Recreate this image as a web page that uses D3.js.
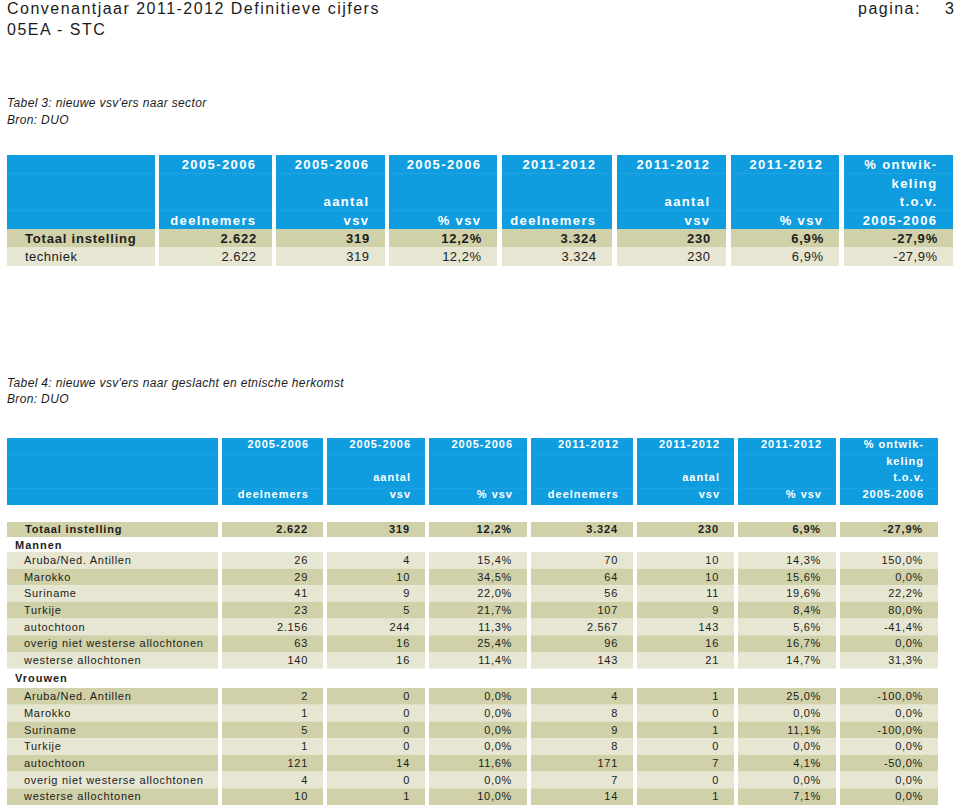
<!DOCTYPE html>
<html><head><meta charset="utf-8">
<script src="https://cdn.jsdelivr.net/npm/d3@7"></script>
<style>body{margin:0;background:#fff}svg{display:block}</style>
</head><body>
<script>
// ---------- DATA ----------
const pageTitle = "Convenantjaar 2011-2012 Definitieve cijfers";
const pageSubtitle = "05EA - STC";
const pageLabel = "pagina:";
const pageNumber = "3";

const headerLabels = [
  ["2005-2006", "", "", "deelnemers"],
  ["2005-2006", "", "aantal", "vsv"],
  ["2005-2006", "", "", "% vsv"],
  ["2011-2012", "", "", "deelnemers"],
  ["2011-2012", "", "aantal", "vsv"],
  ["2011-2012", "", "", "% vsv"],
  ["% ontwik-", "keling", "t.o.v.", "2005-2006"]
];

// Tabel 3
const t3Caption = "Tabel 3: nieuwe vsv'ers naar sector";
const t3Source = "Bron: DUO";
const sectorRows = ["Totaal instelling", "techniek"];
const sectorDeel0506 = [2622, 2622];
const sectorVsv0506 = [319, 319];
const sectorPct0506 = [12.2, 12.2];
const sectorDeel1112 = [3324, 3324];
const sectorVsv1112 = [230, 230];
const sectorPct1112 = [6.9, 6.9];
const sectorOntw = [-27.9, -27.9];

// Tabel 4
const t4Caption = "Tabel 4: nieuwe vsv'ers naar geslacht en etnische herkomst";
const t4Source = "Bron: DUO";
const totalLabel = "Totaal instelling";
const totalValues = [2622, 319, 12.2, 3324, 230, 6.9, -27.9];
const genders = ["Mannen", "Vrouwen"];
const origins = ["Aruba/Ned. Antillen", "Marokko", "Suriname", "Turkije", "autochtoon",
                 "overig niet westerse allochtonen", "westerse allochtonen"];

const mDeel0506 = [26, 29, 41, 23, 2156, 63, 140];
const mVsv0506  = [4, 10, 9, 5, 244, 16, 16];
const mPct0506  = [15.4, 34.5, 22.0, 21.7, 11.3, 25.4, 11.4];
const mDeel1112 = [70, 64, 56, 107, 2567, 96, 143];
const mVsv1112  = [10, 10, 11, 9, 143, 16, 21];
const mPct1112  = [14.3, 15.6, 19.6, 8.4, 5.6, 16.7, 14.7];
const mOntw     = [150.0, 0.0, 22.2, 80.0, -41.4, 0.0, 31.3];

const vDeel0506 = [2, 1, 5, 1, 121, 4, 10];
const vVsv0506  = [0, 0, 0, 0, 14, 0, 1];
const vPct0506  = [0.0, 0.0, 0.0, 0.0, 11.6, 0.0, 10.0];
const vDeel1112 = [4, 8, 9, 8, 171, 7, 14];
const vVsv1112  = [1, 0, 1, 0, 7, 0, 1];
const vPct1112  = [25.0, 0.0, 11.1, 0.0, 4.1, 0.0, 7.1];
const vOntw     = [-100.0, 0.0, -100.0, 0.0, -50.0, 0.0, 0.0];

// ---------- FORMAT ----------
const nl = d3.formatLocale({decimal: ",", thousands: ".", grouping: [3], currency: ["€", ""], minus: "-"});
const fInt = nl.format(",d");
const fPct = v => nl.format(".1f")(v) + "%";
const colFormats = [fInt, fInt, fPct, fInt, fInt, fPct, fPct];

// ---------- STYLE ----------
const BLUE = "#0f9de0", DARK = "#d0d1a8", LIGHT = "#e6e6d2", TXT = "#1c1c1c";
const FONT = "'Liberation Sans', Arial, Helvetica, sans-serif";

const W = 960, H = 811;
const svg = d3.select("body").append("svg").attr("width", W).attr("height", H)
  .style("font-family", FONT);

// Page header
svg.append("text").attr("x", 7).attr("y", 13.5).attr("font-size", 16)
  .attr("letter-spacing", 1.48).attr("fill", TXT).text(pageTitle);
svg.append("text").attr("x", 7).attr("y", 35).attr("font-size", 16)
  .attr("letter-spacing", 1.48).attr("fill", TXT).text(pageSubtitle);
svg.append("text").attr("x", 858).attr("y", 13.5).attr("font-size", 16)
  .attr("letter-spacing", 1.48).attr("fill", TXT).text(pageLabel);
svg.append("text").attr("x", 945).attr("y", 13.5).attr("font-size", 16)
  .attr("fill", TXT).text(pageNumber);

function caption(y, txt) {
  svg.append("text").attr("x", 7).attr("y", y).attr("font-size", 12)
    .attr("font-style", "italic").attr("letter-spacing", 0.35).attr("fill", TXT).text(txt);
}
caption(107, t3Caption); caption(124, t3Source);
caption(387, t4Caption); caption(403, t4Source);

// Generic header drawing
function drawHeader(cols, y0, y1, fs, ls, pad, textOffset) {
  const band = d3.scaleBand().domain(d3.range(4)).range([y0, y1]);
  const g = svg.append("g");
  cols.forEach((c, i) => {
    g.append("rect").attr("x", c[0]).attr("y", y0).attr("width", c[1] - c[0])
      .attr("height", y1 - y0).attr("fill", BLUE);
    [1, 3].forEach(k => g.append("line").attr("x1", c[0]).attr("x2", c[1])
      .attr("y1", band(k)).attr("y2", band(k)).attr("stroke", "#22a2e1").attr("stroke-width", 1));
    if (i === 0) return;
    headerLabels[i - 1].forEach((t, k) => {
      if (!t) return;
      g.append("text").attr("x", c[1] - pad).attr("y", band(k) + band.bandwidth() / 2 + textOffset)
        .attr("text-anchor", "end").attr("font-size", fs).attr("font-weight", "bold")
        .attr("letter-spacing", ls).attr("fill", "#fff").text(t);
    });
  });
}

function drawRow(cols, y0, y1, fill, label, values, opt) {
  const g = svg.append("g");
  const cy = (y0 + y1) / 2;
  cols.forEach((c, i) => {
    if (fill) g.append("rect").attr("x", c[0]).attr("y", y0).attr("width", c[1] - c[0])
      .attr("height", y1 - y0).attr("fill", fill);
    const txt = i === 0 ? label : (values ? colFormats[i - 1](values[i - 1]) : "");
    if (!txt) return;
    g.append("text")
      .attr("x", i === 0 ? c[0] + opt.indent : c[1] - opt.pad)
      .attr("y", cy).attr("dy", "0.35em")
      .attr("text-anchor", i === 0 ? "start" : "end")
      .attr("font-size", opt.fs).attr("font-weight", opt.bold ? "bold" : "normal")
      .attr("letter-spacing", opt.ls).attr("fill", TXT).text(txt);
  });
}

// ---------- TABEL 3 ----------
const cols3 = [[7,155],[159,272],[276,385],[389,497],[502,612],[617,726],[731,839],[844,953]];
drawHeader(cols3, 155, 229, 13, 1.4, 15.5, 5.2);
const rowY3 = d3.scaleBand().domain(sectorRows).range([229, 266]);
const sectorCols = [sectorDeel0506, sectorVsv0506, sectorPct0506, sectorDeel1112, sectorVsv1112, sectorPct1112, sectorOntw];
sectorRows.forEach((r, j) => {
  const vals = sectorCols.map(a => a[j]);
  const bold = j === 0;
  drawRow(cols3, rowY3(r), rowY3(r) + rowY3.bandwidth(), j === 0 ? DARK : LIGHT, r, vals,
    {fs: 13, bold, ls: bold ? 0.8 : 0.5, pad: bold ? 15 : 15.5, indent: 18});
});

// ---------- TABEL 4 ----------
const cols4 = [[7,218],[222,323],[327,425],[429,527],[531,633],[637,734],[738,836],[840,938]];
drawHeader(cols4, 438, 505, 11, 1, 14, 1.6);
drawRow(cols4, 522, 537, DARK, totalLabel, totalValues,
  {fs: 11, bold: true, ls: 0.85, pad: 15, indent: 18});

const groupData = [
  {label: genders[0], labelY: [538, 552], rows: [552, 668.6],
   cols: [mDeel0506, mVsv0506, mPct0506, mDeel1112, mVsv1112, mPct1112, mOntw], firstFill: LIGHT},
  {label: genders[1], labelY: [670, 686], rows: [688, 805],
   cols: [vDeel0506, vVsv0506, vPct0506, vDeel1112, vVsv1112, vPct1112, vOntw], firstFill: DARK}
];
groupData.forEach(gd => {
  drawRow(cols4, gd.labelY[0], gd.labelY[1], null, gd.label, null,
    {fs: 11, bold: true, ls: 1, pad: 15, indent: 8});
  const y = d3.scaleBand().domain(origins).range(gd.rows);
  origins.forEach((o, j) => {
    const fill = (j % 2 === 0) ? gd.firstFill : (gd.firstFill === LIGHT ? DARK : LIGHT);
    drawRow(cols4, y(o), y(o) + y.bandwidth(), fill, o, gd.cols.map(a => a[j]),
      {fs: 11, bold: false, ls: 0.7, pad: 15, indent: 17});
  });
});
</script>
</body></html>
